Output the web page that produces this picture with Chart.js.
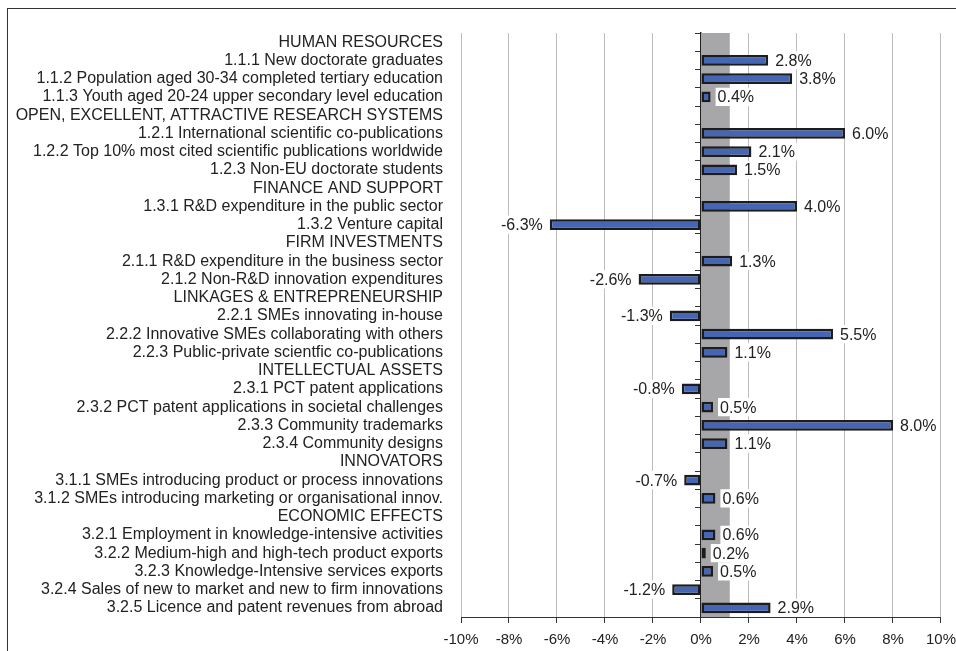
<!DOCTYPE html>
<html>
<head>
<meta charset="utf-8">
<script src="https://cdn.jsdelivr.net/npm/chart.js@4/dist/chart.umd.min.js"></script>
<style>
  body { margin: 0; background: #fff; overflow: hidden; }
  #frame { position: absolute; left: 7px; top: 8px; width: 1000px; height: 700px; border: 1px solid #333; }
  #myChart { position: absolute; left: 0; top: 0; }
</style>
</head>
<body>
<div id="frame"></div>
<canvas id="myChart" width="956" height="651"></canvas>
<script>
// row labels, top to bottom
const indicatorLabels = [
  "HUMAN RESOURCES",
  "1.1.1 New doctorate graduates",
  "1.1.2 Population aged 30-34 completed tertiary education",
  "1.1.3 Youth aged 20-24 upper secondary level education",
  "OPEN, EXCELLENT, ATTRACTIVE RESEARCH SYSTEMS",
  "1.2.1 International scientific co-publications",
  "1.2.2 Top 10% most cited scientific publications worldwide",
  "1.2.3 Non-EU doctorate students",
  "FINANCE AND SUPPORT",
  "1.3.1 R&D expenditure in the public sector",
  "1.3.2 Venture capital",
  "FIRM INVESTMENTS",
  "2.1.1 R&D expenditure in the business sector",
  "2.1.2 Non-R&D innovation expenditures",
  "LINKAGES & ENTREPRENEURSHIP",
  "2.2.1 SMEs innovating in-house",
  "2.2.2 Innovative SMEs collaborating with others",
  "2.2.3 Public-private scientfic co-publications",
  "INTELLECTUAL ASSETS",
  "2.3.1 PCT patent applications",
  "2.3.2 PCT patent applications in societal challenges",
  "2.3.3 Community trademarks",
  "2.3.4 Community designs",
  "INNOVATORS",
  "3.1.1 SMEs introducing product or process innovations",
  "3.1.2 SMEs introducing marketing or organisational innov.",
  "ECONOMIC EFFECTS",
  "3.2.1 Employment in knowledge-intensive activities",
  "3.2.2 Medium-high and high-tech product exports",
  "3.2.3 Knowledge-Intensive services exports",
  "3.2.4 Sales of new to market and new to firm innovations",
  "3.2.5 Licence and patent revenues from abroad"
];

// growth rates in %, null for the group headings
const growthValues = [
  null, 2.8, 3.8, 0.4,
  null, 6.0, 2.1, 1.5,
  null, 4.0, -6.3,
  null, 1.3, -2.6,
  null, -1.3, 5.5, 1.1,
  null, -0.8, 0.5, 8.0, 1.1,
  null, -0.7, 0.6,
  null, 0.6, 0.2, 0.5, -1.2, 2.9
];

// shaded reference band (from, to) in %
const bandRange = [0, 1.2];

const axisMin = -10;
const axisMax = 10;
const axisStep = 2;

const font = "'Liberation Sans', Arial, sans-serif";

// grey band behind the bars
const bandPlugin = {
  id: "band",
  beforeDatasetsDraw(chart) {
    let ctx = chart.ctx;
    let xScale = chart.scales.x;
    let area = chart.chartArea;
    let x1 = xScale.getPixelForValue(bandRange[0]);
    let x2 = xScale.getPixelForValue(bandRange[1]);
    ctx.save();
    ctx.fillStyle = "#a7a7a9";
    ctx.fillRect(x1, area.top, x2 - x1, area.bottom - area.top);
    ctx.restore();
  }
};

// value labels with a white box behind them
const valueLabelPlugin = {
  id: "valueLabels",
  afterDatasetsDraw(chart) {
    let ctx = chart.ctx;
    let meta = chart.getDatasetMeta(0);
    let yScale = chart.scales.y;
    let rowH = yScale.height / indicatorLabels.length;
    ctx.save();
    ctx.font = "16px " + font;
    ctx.textBaseline = "middle";
    meta.data.forEach((bar, i) => {
      let v = growthValues[i];
      if (v === null) return;
      let text = v.toFixed(1) + "%";
      let w = ctx.measureText(text).width;
      let tx;
      if (v >= 0) {
        tx = bar.x + 7;
      } else {
        tx = bar.x - 7 - w;
      }
      ctx.fillStyle = "#fff";
      ctx.fillRect(tx - 2, bar.y - rowH / 2, w + 4, rowH);
      ctx.fillStyle = "#222";
      ctx.textAlign = "left";
      ctx.fillText(text, tx, bar.y + 1);
    });
    ctx.restore();
  }
};

let ctx = document.getElementById("myChart").getContext("2d");
let chart = new Chart(ctx, {
  type: "bar",
  data: {
    labels: indicatorLabels,
    datasets: [
      {
        data: growthValues,
        backgroundColor: "#4466b4",
        borderColor: "#1c1c1c",
        borderWidth: 2.5,
        borderSkipped: false,
        barPercentage: 0.6,
        categoryPercentage: 1
      }
    ]
  },
  options: {
    indexAxis: "y",
    responsive: false,
    animation: false,
    layout: { padding: { top: 33, right: 9, bottom: 0, left: 0 } },
    plugins: {
      legend: { display: false },
      tooltip: { enabled: false }
    },
    scales: {
      x: {
        min: axisMin,
        max: axisMax,
        grid: {
          color: "#bdbdbd",
          tickColor: "#333",
          tickLength: 6,
          lineWidth: 1
        },
        border: { display: true, color: "#333", width: 1 },
        ticks: {
          stepSize: axisStep,
          color: "#222",
          padding: 0,
          font: { family: font, size: 15, lineHeight: 2.27 },
          callback: v => v + "%"
        },
        afterFit: s => { s.height = 34; }
      },
      y: {
        type: "category",
        grid: { display: false, drawTicks: false },
        border: { display: false },
        ticks: {
          autoSkip: false,
          color: "#222",
          padding: 18,
          font: { family: font, size: 16 }
        },
        afterFit: s => { s.width = 461; }
      },
      y2: {
        type: "category",
        axis: "y",
        labels: indicatorLabels,
        position: { x: 0 },
        offset: true,
        grid: {
          offset: true,
          drawOnChartArea: false,
          drawTicks: true,
          tickLength: 5,
          color: "#333"
        },
        border: { display: true, color: "#222", width: 1.5 },
        ticks: { display: false }
      }
    }
  },
  plugins: [bandPlugin, valueLabelPlugin]
});
</script>
</body>
</html>
